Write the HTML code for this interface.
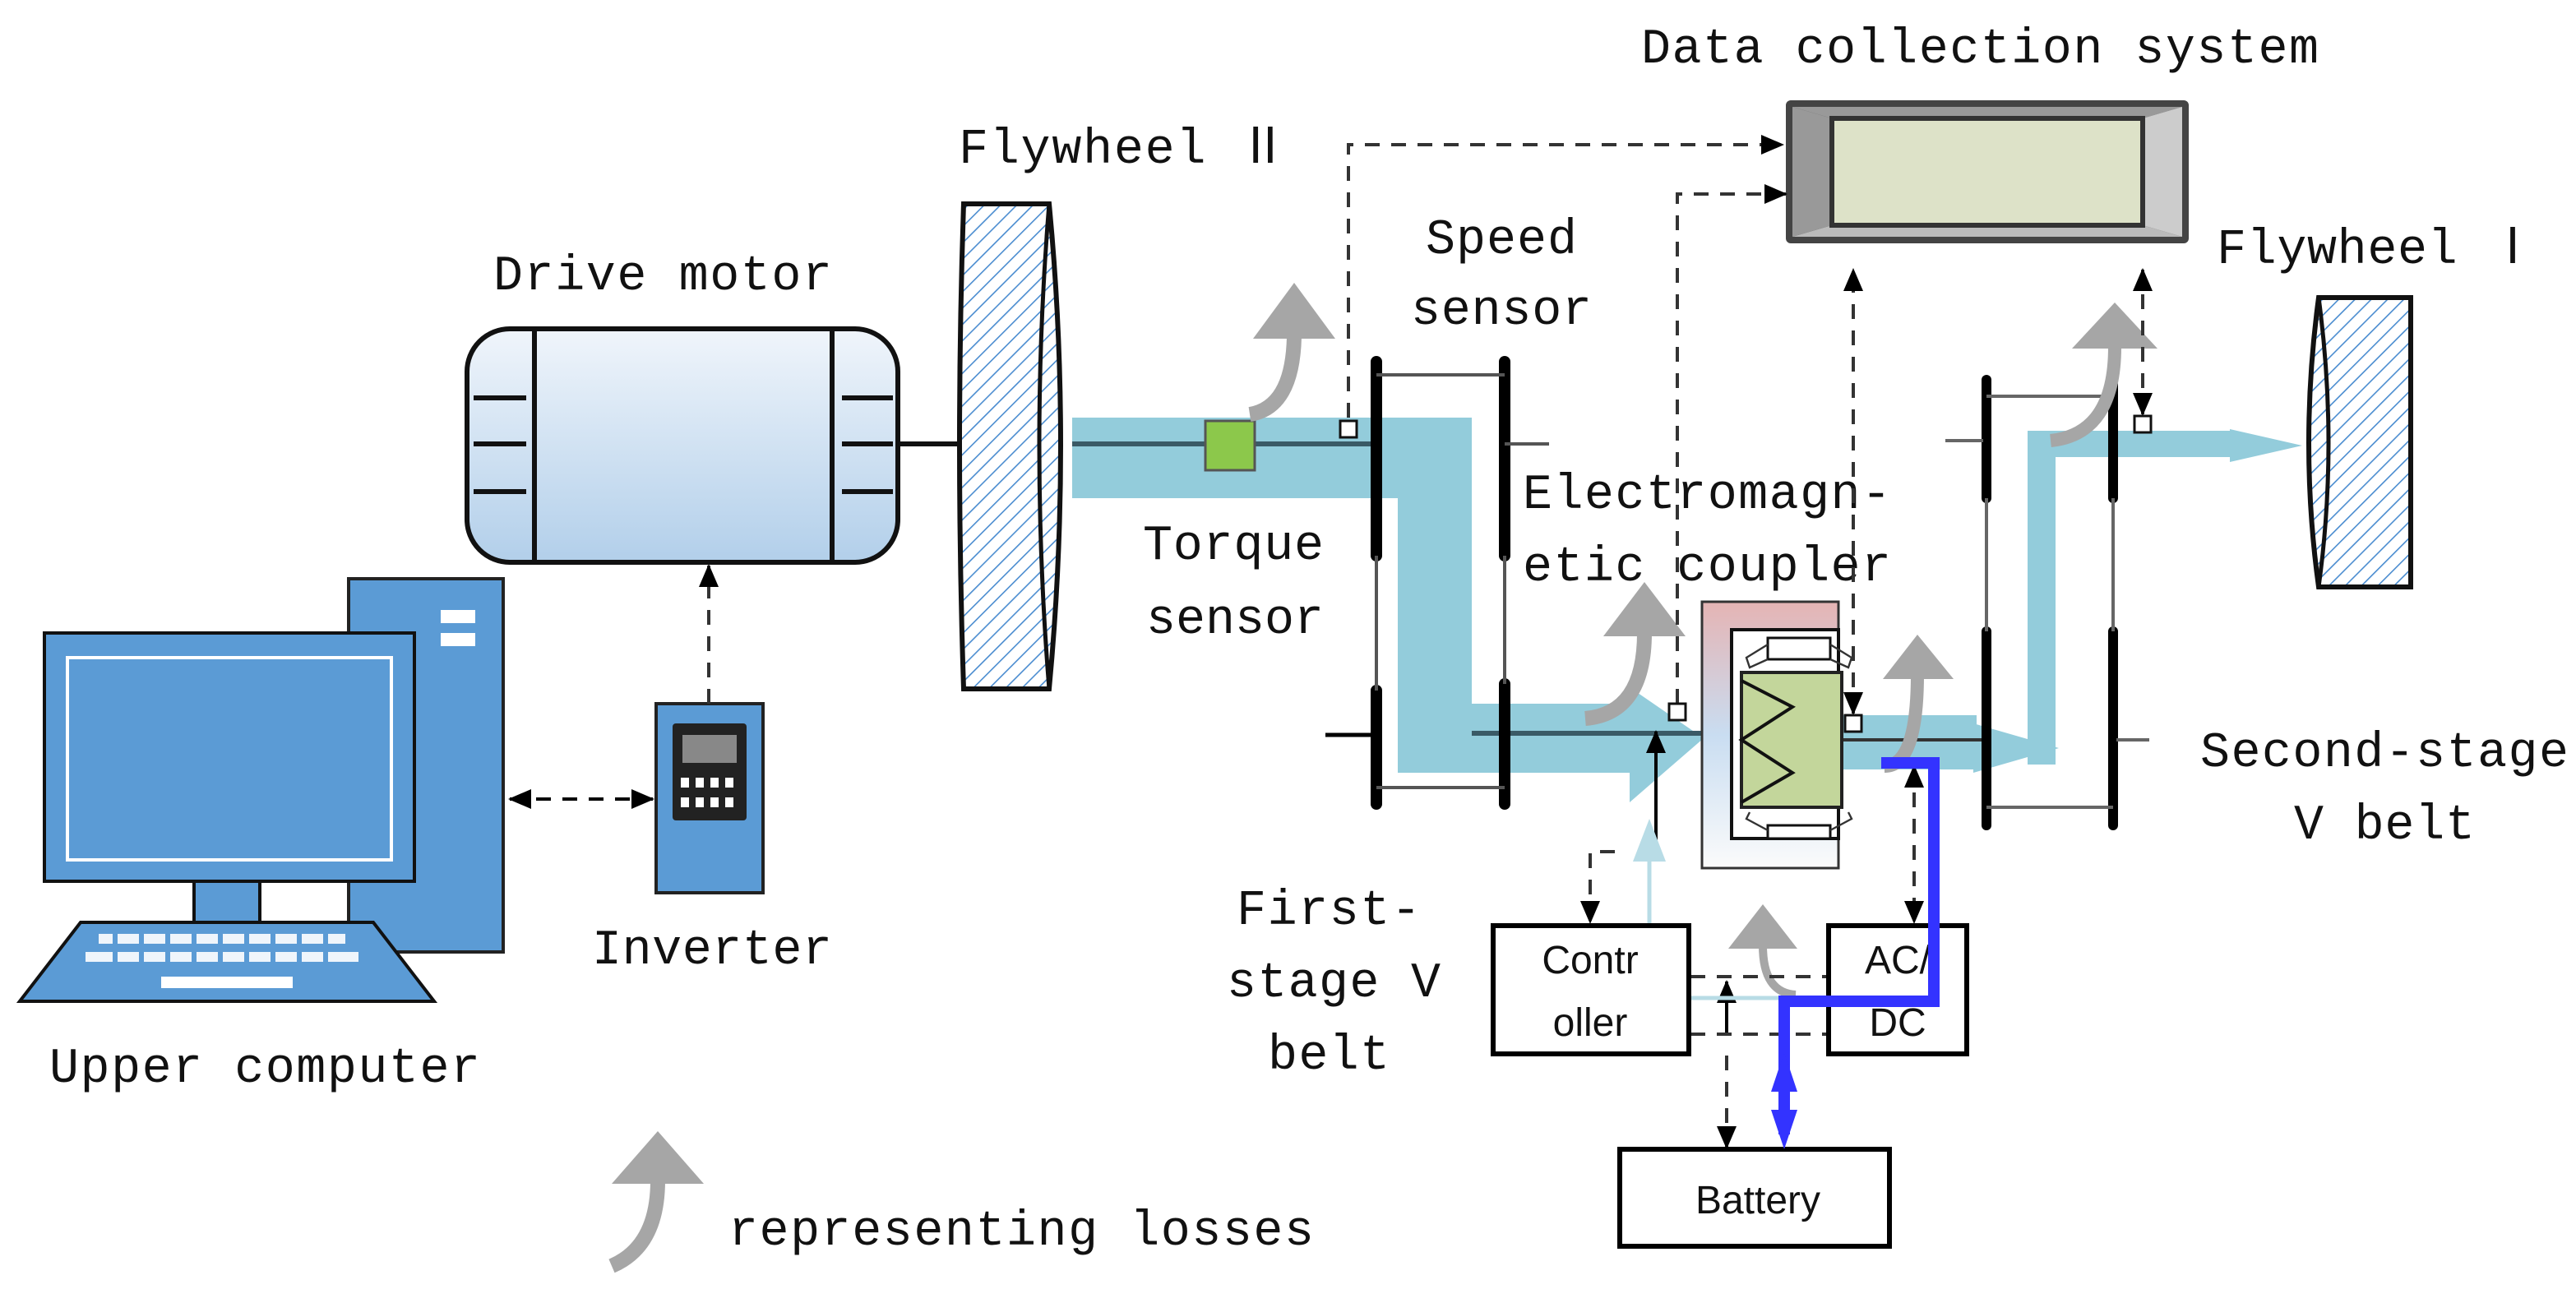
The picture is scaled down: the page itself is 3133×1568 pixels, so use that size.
<!DOCTYPE html>
<html><head><meta charset="utf-8"><style>
html,body{margin:0;padding:0;background:#fff;}
svg{display:block;}
text{font-family:"Liberation Mono","Noto Sans CJK SC",monospace;fill:#111;}
.s{font-family:"Liberation Sans",sans-serif;}
</style></head><body>
<svg width="3133" height="1568" viewBox="0 0 1566.5 784" xmlns="http://www.w3.org/2000/svg">
<defs>
<pattern id="h" width="7" height="7" patternUnits="userSpaceOnUse" patternTransform="rotate(45)">
<rect width="7" height="7" fill="#fff"/><line x1="0" y1="0" x2="0" y2="7" stroke="#4a8cd0" stroke-width="1.6"/></pattern>
<linearGradient id="mg" x1="0" y1="0" x2="0" y2="1"><stop offset="0" stop-color="#f0f5fb"/><stop offset="1" stop-color="#b2cfea"/></linearGradient>
<linearGradient id="cg" x1="0" y1="0" x2="0" y2="1"><stop offset="0" stop-color="#e5b4b4"/><stop offset="0.5" stop-color="#c9ddf1"/><stop offset="1" stop-color="#fbfbfb"/></linearGradient>
<marker id="a" markerWidth="14" markerHeight="14" refX="13" refY="7" orient="auto" markerUnits="userSpaceOnUse"><path d="M0,1 L14,7 L0,13 Z" fill="#000"/></marker>
<marker id="as" markerWidth="14" markerHeight="14" refX="1" refY="7" orient="auto" markerUnits="userSpaceOnUse"><path d="M14,1 L0,7 L14,13 Z" fill="#000"/></marker>
</defs>

<!-- Titles -->
<text x="998" y="38" font-size="30" textLength="412">Data collection system</text>
<text x="583" y="99" font-size="30" textLength="200">Flywheel Ⅱ</text>
<text x="1348" y="160" font-size="30" textLength="195">Flywheel Ⅰ</text>
<text x="300" y="176" font-size="30" textLength="206">Drive motor</text>
<text x="867" y="154" font-size="30" textLength="92">Speed</text>
<text x="858" y="197" font-size="30" textLength="110">sensor</text>
<text x="926" y="309" font-size="30" textLength="224">Electromagn-</text>
<text x="926" y="353" font-size="30" textLength="224">etic coupler</text>
<text x="695" y="340" font-size="30" textLength="110">Torque</text>
<text x="697" y="385" font-size="30" textLength="108">sensor</text>
<text x="752" y="562" font-size="30" textLength="112">First-</text>
<text x="746" y="606" font-size="30" textLength="130">stage V</text>
<text x="771" y="650" font-size="30" textLength="74">belt</text>
<text x="1338" y="466" font-size="30" textLength="224">Second-stage</text>
<text x="1395" y="510" font-size="30" textLength="110">V belt</text>
<text x="360" y="586" font-size="30" textLength="146">Inverter</text>
<text x="30" y="658" font-size="30" textLength="262">Upper computer</text>
<text x="443" y="757" font-size="30" textLength="356">representing losses</text>

<!-- Data collection box -->
<rect x="1086" y="61" width="245" height="87" fill="#444" rx="3"/>
<polygon points="1090,65 1327,65 1303,72 1114,72" fill="#999"/>
<polygon points="1090,144 1327,144 1303,137 1114,137" fill="#bbb"/>
<polygon points="1090,65 1114,72 1114,137 1090,144" fill="#999"/>
<polygon points="1327,65 1303,72 1303,137 1327,144" fill="#ccc"/>
<rect x="1114" y="72" width="189" height="65" fill="#dde2c8" stroke="#333" stroke-width="3"/>

<!-- Computer -->
<rect x="212" y="352" width="94" height="227" fill="#5b9bd5" stroke="#222" stroke-width="2"/>
<rect x="268" y="371" width="21" height="8" fill="#fff"/>
<rect x="268" y="385" width="21" height="8" fill="#fff"/>
<rect x="27" y="385" width="225" height="151" fill="#5b9bd5" stroke="#111" stroke-width="2"/>
<rect x="41" y="400" width="197" height="123" fill="none" stroke="#fff" stroke-width="2"/>
<rect x="118" y="536" width="40" height="25" fill="#5b9bd5" stroke="#111" stroke-width="2"/>
<polygon points="49,561 227,561 264,609 12,609" fill="#5b9bd5" stroke="#111" stroke-width="2"/>
<g fill="#fff">
<rect x="60" y="568" width="150" height="6" opacity="0.9"/>
<rect x="52" y="579" width="166" height="6" opacity="0.9"/>
<rect x="98" y="594" width="80" height="7"/>
</g>
<g stroke="#5b9bd5" stroke-width="3"><line x1="70" y1="565" x2="70" y2="588"/><line x1="86" y1="565" x2="86" y2="588"/><line x1="102" y1="565" x2="102" y2="588"/><line x1="118" y1="565" x2="118" y2="588"/><line x1="134" y1="565" x2="134" y2="588"/><line x1="150" y1="565" x2="150" y2="588"/><line x1="166" y1="565" x2="166" y2="588"/><line x1="182" y1="565" x2="182" y2="588"/><line x1="198" y1="565" x2="198" y2="588"/></g>

<!-- Inverter -->
<rect x="399" y="428" width="65" height="115" fill="#5b9bd5" stroke="#222" stroke-width="2"/>
<rect x="409" y="440" width="45" height="59" fill="#222" rx="2"/>
<rect x="415" y="447" width="33" height="17" fill="#888"/>
<g fill="#fff"><rect x="414" y="473" width="5" height="6"/><rect x="423" y="473" width="5" height="6"/><rect x="432" y="473" width="5" height="6"/><rect x="441" y="473" width="5" height="6"/>
<rect x="414" y="485" width="5" height="6"/><rect x="423" y="485" width="5" height="6"/><rect x="432" y="485" width="5" height="6"/><rect x="441" y="485" width="5" height="6"/></g>
<line x1="310" y1="486" x2="397" y2="486" stroke="#000" stroke-width="2" stroke-dasharray="9,7" marker-end="url(#a)" marker-start="url(#as)"/>
<line x1="431" y1="428" x2="431" y2="344" stroke="#333" stroke-width="2" stroke-dasharray="9,7" marker-end="url(#a)"/>

<!-- Motor -->
<rect x="284" y="200" width="262" height="142" rx="26" fill="url(#mg)" stroke="#111" stroke-width="3"/>
<line x1="325" y1="200" x2="325" y2="342" stroke="#111" stroke-width="3"/>
<line x1="506" y1="200" x2="506" y2="342" stroke="#111" stroke-width="3"/>
<g stroke="#111" stroke-width="3"><line x1="288" y1="242" x2="320" y2="242"/><line x1="288" y1="270" x2="320" y2="270"/><line x1="288" y1="299" x2="320" y2="299"/>
<line x1="512" y1="242" x2="543" y2="242"/><line x1="512" y1="270" x2="543" y2="270"/><line x1="512" y1="299" x2="543" y2="299"/></g>
<line x1="546" y1="270" x2="584" y2="270" stroke="#111" stroke-width="3"/>

<!-- Flywheel II -->
<path d="M586,124 L638,124 Q652,270 638,419 L586,419 Q581,270 586,124 Z" fill="url(#h)" stroke="#111" stroke-width="3"/>
<path d="M638,124 Q626,270 638,419" fill="none" stroke="#111" stroke-width="2.5"/>

<!-- Flywheel I -->
<path d="M1410,181 L1466,181 L1466,357 L1410,357 Q1398,270 1410,181 Z" fill="url(#h)" stroke="#111" stroke-width="3"/>
<path d="M1410,181 Q1422,270 1410,357" fill="none" stroke="#111" stroke-width="2.5"/>

<!-- Power flow band -->
<g fill="#93ccdb">
<rect x="652" y="254" width="243" height="49"/>
<rect x="850" y="254" width="45" height="216"/>
<rect x="850" y="428" width="143" height="42"/>
<polygon points="991,418 1036,449 991,488"/>
<rect x="1120" y="435" width="82" height="33"/>
<polygon points="1200,440 1252,455 1200,470"/>
<rect x="1233" y="262" width="17" height="203"/>
<rect x="1233" y="262" width="125" height="16"/>
<polygon points="1356,261 1400,271 1356,281"/>
</g>
<line x1="652" y1="270" x2="837" y2="270" stroke="#3a5a66" stroke-width="3"/>
<line x1="895" y1="446" x2="1035" y2="446" stroke="#3a5a66" stroke-width="3"/>
<line x1="1118" y1="450" x2="1205" y2="450" stroke="#333" stroke-width="2"/>
<rect x="733" y="256" width="30" height="30" fill="#8cc84b" stroke="#555" stroke-width="1.5"/>

<!-- First stage belt -->
<g stroke="#000" stroke-linecap="round">
<line x1="837" y1="220" x2="837" y2="338" stroke-width="7"/>
<line x1="837" y1="420" x2="837" y2="489" stroke-width="7"/>
<line x1="915" y1="220" x2="915" y2="338" stroke-width="7"/>
<line x1="915" y1="416" x2="915" y2="489" stroke-width="7"/>
</g>
<g stroke="#555" stroke-width="2"><line x1="837" y1="228" x2="915" y2="228"/><line x1="837" y1="479" x2="915" y2="479"/>
<line x1="837" y1="338" x2="837" y2="420"/><line x1="915" y1="338" x2="915" y2="416"/>
<line x1="915" y1="270" x2="942" y2="270"/></g>
<line x1="806" y1="447" x2="834" y2="447" stroke="#000" stroke-width="2.5"/>

<!-- Second stage belt -->
<g stroke="#000" stroke-linecap="round">
<line x1="1208" y1="231" x2="1208" y2="303" stroke-width="6"/>
<line x1="1208" y1="384" x2="1208" y2="502" stroke-width="6"/>
<line x1="1285" y1="234" x2="1285" y2="303" stroke-width="6"/>
<line x1="1285" y1="384" x2="1285" y2="502" stroke-width="6"/>
</g>
<g stroke="#666" stroke-width="2"><line x1="1208" y1="241" x2="1285" y2="241"/><line x1="1208" y1="491" x2="1285" y2="491"/>
<line x1="1208" y1="303" x2="1208" y2="384"/><line x1="1285" y1="303" x2="1285" y2="384"/>
<line x1="1183" y1="268" x2="1206" y2="268"/><line x1="1287" y1="450" x2="1307" y2="450"/></g>

<!-- Coupler -->
<path d="M1035,366 L1118,366 L1118,383 L1053,383 L1053,510 L1118,510 L1118,528 L1035,528 Z" fill="url(#cg)" stroke="#333" stroke-width="1.5"/>
<rect x="1053" y="383" width="65" height="127" fill="#fff" stroke="#111" stroke-width="2"/>
<rect x="1059" y="409" width="61" height="82" fill="#c3d69b" stroke="#222" stroke-width="2"/>
<polyline points="1059,414 1090,430 1059,450 1090,470 1059,488" fill="none" stroke="#111" stroke-width="2"/>
<rect x="1075" y="388" width="38" height="13" fill="#fff" stroke="#111" stroke-width="1.5"/>
<rect x="1075" y="502" width="38" height="8" fill="#fff" stroke="#111" stroke-width="1.5"/>
<polyline points="1075,392 1062,400 1064,406 1075,401" fill="none" stroke="#333" stroke-width="1.2"/>
<polyline points="1113,392 1126,400 1124,406 1113,401" fill="none" stroke="#333" stroke-width="1.2"/>
<polyline points="1075,505 1062,498 1064,494" fill="none" stroke="#333" stroke-width="1.2"/>
<polyline points="1113,505 1126,498 1124,494" fill="none" stroke="#333" stroke-width="1.2"/>

<!-- Loss arrows -->
<g fill="#a6a6a6">
<path d="M760,252 Q786,248 787,205" fill="none" stroke="#a6a6a6" stroke-width="9"/>
<polygon points="787,172 762,206 812,206"/>
<path d="M964,437 Q1000,434 1000,385" fill="none" stroke="#a6a6a6" stroke-width="9"/>
<polygon points="1000,354 975,387 1025,387"/>
<path d="M1146,466 Q1166,466 1166,410" fill="none" stroke="#a6a6a6" stroke-width="8"/>
<polygon points="1166,386 1145,413 1188,413"/>
<path d="M1247,268 Q1286,264 1286,211" fill="none" stroke="#a6a6a6" stroke-width="8"/>
<polygon points="1286,184 1260,212 1312,212"/>
<path d="M1092,605 Q1072,604 1072,575" fill="none" stroke="#a6a6a6" stroke-width="5"/>
<polygon points="1072,550 1051,577 1093,577"/>
<path d="M372,770 Q400,758 400,718" fill="none" stroke="#a6a6a6" stroke-width="9"/>
<polygon points="400,688 372,720 428,720"/>
</g>

<!-- Sensors and dashed lines -->
<g fill="none" stroke="#333" stroke-width="2" stroke-dasharray="9,7">
<polyline points="820,254 820,88 1084,88" marker-end="url(#a)"/>
<polyline points="1020,428 1020,118 1086,118" marker-end="url(#a)"/>
<line x1="1127" y1="434" x2="1127" y2="164" marker-end="url(#a)" marker-start="url(#as)"/>
<line x1="1303" y1="252" x2="1303" y2="164" marker-end="url(#a)" marker-start="url(#as)"/>
<line x1="1164" y1="466" x2="1164" y2="561" marker-end="url(#a)" marker-start="url(#as)"/>
<polyline points="982,518 967,518 967,561" marker-end="url(#a)"/>
<line x1="1050" y1="642" x2="1050" y2="698" marker-end="url(#a)"/>
<line x1="1028" y1="594" x2="1111" y2="594"/>
<line x1="1028" y1="629" x2="1111" y2="629"/>
</g>
<line x1="1050" y1="628" x2="1050" y2="597" stroke="#000" stroke-width="2" marker-end="url(#a)"/>
<g fill="#fff" stroke="#111" stroke-width="1.5">
<rect x="815" y="256" width="10" height="10"/>
<rect x="1015" y="428" width="10" height="10"/>
<rect x="1122" y="435" width="10" height="10"/>
<rect x="1298" y="253" width="10" height="10"/>
</g>

<!-- Controller signal -->
<line x1="1007" y1="514" x2="1007" y2="445" stroke="#000" stroke-width="2" marker-end="url(#a)"/>
<polyline points="1095,607 1003,607 1003,510" fill="none" stroke="#b8dce6" stroke-width="2.5"/>
<polygon points="1003,498 993,524 1013,524" fill="#b8dce6"/>

<!-- Boxes -->
<rect x="908" y="563" width="119" height="78" fill="#fff" stroke="#000" stroke-width="3"/>
<text class="s" x="967" y="592" font-size="24" text-anchor="middle">Contr</text>
<text class="s" x="967" y="630" font-size="24" text-anchor="middle">oller</text>
<rect x="1112" y="563" width="84" height="78" fill="#fff" stroke="#000" stroke-width="3"/>
<text class="s" x="1154" y="592" font-size="24" text-anchor="middle">AC/</text>
<text class="s" x="1154" y="630" font-size="24" text-anchor="middle">DC</text>
<rect x="985" y="699" width="164" height="59" fill="#fff" stroke="#000" stroke-width="3"/>
<text class="s" x="1069" y="738" font-size="24" text-anchor="middle">Battery</text>

<!-- Electric power line -->
<polyline points="1144,464 1176,464 1176,609 1085,609 1085,690" fill="none" stroke="#3333ff" stroke-width="7"/>
<polygon points="1085,699 1077,675 1093,675" fill="#3333ff"/>
<polygon points="1085,640 1077,664 1093,664" fill="#3333ff"/>
</svg>
</body></html>
